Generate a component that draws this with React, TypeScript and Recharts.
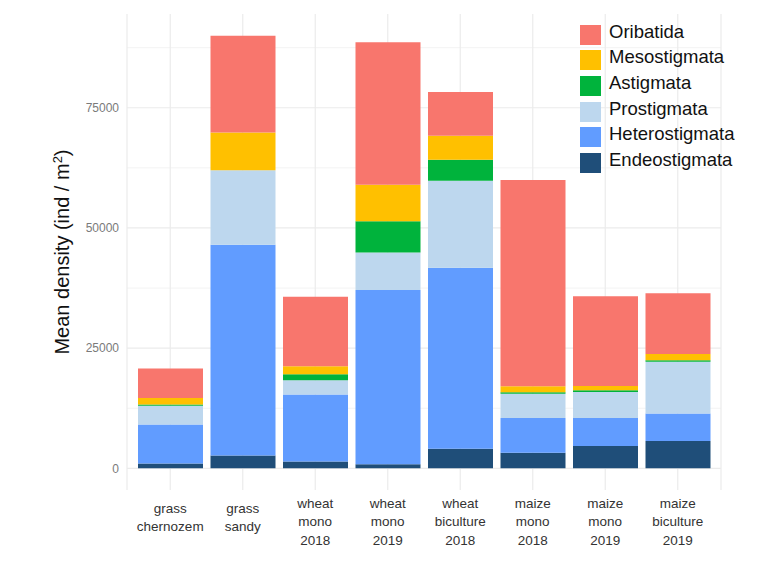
import { BarChart, Bar, XAxis, YAxis, CartesianGrid, Label } from "recharts";

const categories = [
  "grass\nchernozem",
  "grass\nsandy",
  "wheat\nmono\n2018",
  "wheat\nmono\n2019",
  "wheat\nbiculture\n2018",
  "maize\nmono\n2018",
  "maize\nmono\n2019",
  "maize\nbiculture\n2019",
];

// stacked bottom -> top
const endeostigmata = [1000, 2700, 1450, 850, 4100, 3250, 4650, 5700];
const heterostigmata = [8100, 43800, 13900, 36250, 37600, 7200, 5850, 5700];
const prostigmata = [3900, 15500, 3000, 7800, 18100, 5050, 5400, 10750];
const astigmata = [300, 0, 1250, 6500, 4400, 350, 350, 350];
const mesostigmata = [1350, 7850, 1650, 7600, 5000, 1250, 900, 1300];
const oribatida = [6100, 20150, 14450, 29600, 9100, 42850, 18650, 12600];

const yTicks = [0, 25000, 50000, 75000];
const yMinor = [12500, 37500, 62500, 87500];

const series = [
  { key: "Endeostigmata", values: endeostigmata, color: "#1f4e79" },
  { key: "Heterostigmata", values: heterostigmata, color: "#619cff" },
  { key: "Prostigmata", values: prostigmata, color: "#bdd7ee" },
  { key: "Astigmata", values: astigmata, color: "#00b33c" },
  { key: "Mesostigmata", values: mesostigmata, color: "#ffc000" },
  { key: "Oribatida", values: oribatida, color: "#f8766d" },
];

const data = categories.map((name, i) => {
  const row: Record<string, string | number> = { name };
  series.forEach((s) => (row[s.key] = s.values[i]));
  return row;
});

const FONT = "'Liberation Sans', Arial, sans-serif";

function XTick({ x, y, payload }: { x?: number; y?: number; payload?: { value: string } }) {
  const lines = String(payload?.value ?? "").split("\n");
  const start = 13 + (3 - lines.length) * 4.5;
  return (
    <text x={x} y={y} textAnchor="middle" fontFamily={FONT} fontSize={13.5} fill="#333">
      {lines.map((l, i) => (
        <tspan key={i} x={x} dy={i === 0 ? start + 5 : 18.3}>
          {l}
        </tspan>
      ))}
    </text>
  );
}

function LegendBox() {
  const items = [...series].reverse();
  return (
    <div style={{ position: "absolute", left: 580, top: 22, fontFamily: FONT }}>
      {items.map((s) => (
        <div key={s.key} style={{ display: "flex", alignItems: "center", height: 25.6 }}>
          <div style={{ width: 21, height: 20, background: s.color, marginRight: 8 }} />
          <span style={{ fontSize: 18.5, color: "#111", lineHeight: "20px", marginTop: -6 }}>{s.key}</span>
        </div>
      ))}
    </div>
  );
}

function YTitle({ viewBox }: { viewBox?: { x: number; y: number; width: number; height: number } }) {
  const cy = viewBox ? viewBox.y + viewBox.height / 2 : 252;
  const cx = 69;
  return (
    <text x={cx} y={cy} transform={`rotate(-90, ${cx}, ${cy})`} textAnchor="middle" fontFamily={FONT} fontSize={20} fill="#111">
      Mean density (ind / m
      <tspan dy={-7} fontSize={13}>2</tspan>
      <tspan dy={7}>)</tspan>
    </text>
  );
}

export default function App() {
  return (
    <div style={{ position: "absolute", left: 0, top: 0, width: 781, height: 561, background: "#fff" }}>
      <BarChart width={781} height={561} data={data} margin={{ top: 14, right: 60, bottom: 0, left: 0 }} barSize={65}>
        <CartesianGrid horizontal={true} vertical={false} horizontalValues={yMinor} stroke="#f3f3f3" strokeWidth={1} />
        <CartesianGrid horizontalValues={yTicks} stroke="#ebebeb" strokeWidth={1.2} />
        <XAxis
          dataKey="name"
          axisLine={false}
          tickLine={false}
          tickSize={0}
          tickMargin={0}
          height={71}
          padding={{ left: 7, right: 7 }}
          interval={0}
          tick={<XTick />}
        />
        <YAxis
          width={127}
          domain={[-4500, 94500]}
          ticks={yTicks}
          axisLine={false}
          tickLine={false}
          tickSize={0}
          tickMargin={8}
          tick={{ fontSize: 12, fill: "#7a7a7a", fontFamily: FONT }}
          allowDataOverflow
        >
          <Label content={<YTitle />} />
        </YAxis>
        {series.map((s) => (
          <Bar key={s.key} dataKey={s.key} stackId="a" fill={s.color} isAnimationActive={false} />
        ))}
      </BarChart>
      <LegendBox />
    </div>
  );
}
